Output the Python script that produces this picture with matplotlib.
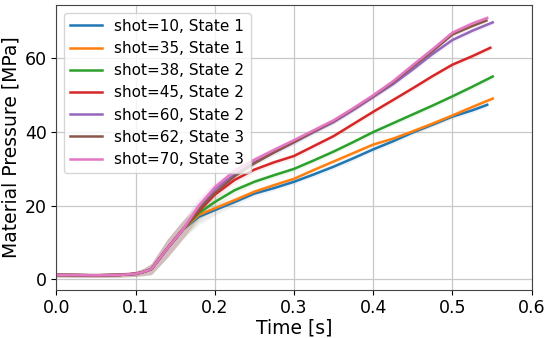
import numpy as np
import matplotlib
matplotlib.use('Agg')
from matplotlib import pyplot as plt

# sample times (s) shared by all shots, last point of each shot is in end_time
time = [0.0, 0.05, 0.08, 0.10, 0.11, 0.12, 0.14, 0.16, 0.18, 0.20, 0.225, 0.25,
        0.275, 0.30, 0.325, 0.35, 0.375, 0.40, 0.425, 0.45, 0.475, 0.50, 0.525]
end_time = [0.544, 0.551, 0.551, 0.548, 0.551, 0.543, 0.544]

labels = ['shot=10, State 1', 'shot=35, State 1', 'shot=38, State 2',
          'shot=45, State 2', 'shot=60, State 2', 'shot=62, State 3',
          'shot=70, State 3']

start = [1.2, 1.1, 1.2, 1.5, 2.0, 2.8, 8.4, 13.6]  # common part up to 0.16 s

shot10 = start + [17.0, 18.8, 21.0, 23.3, 24.8, 26.5, 28.5, 30.6, 32.9, 35.3,
                  37.5, 39.9, 42.0, 44.2, 45.9, 47.4]
shot35 = start + [17.5, 19.3, 21.5, 23.8, 25.6, 27.3, 29.7, 32.0, 34.3, 36.6,
                  38.2, 40.2, 42.3, 44.5, 46.8, 49.1]
shot38 = start + [18.0, 21.0, 24.2, 26.5, 28.3, 30.0, 32.3, 34.7, 37.3, 40.0,
                  42.4, 44.8, 47.2, 49.7, 52.3, 55.1]
shot45 = start + [18.5, 23.0, 27.0, 29.8, 31.8, 33.5, 36.2, 38.9, 42.2, 45.5,
                  48.7, 51.9, 55.2, 58.3, 60.6, 62.9]
shot60 = start + [19.5, 24.5, 28.5, 31.8, 34.5, 37.2, 40.0, 42.7, 46.0, 49.5,
                  53.0, 57.0, 61.2, 65.0, 67.5, 69.8]
shot62 = start + [19.0, 23.5, 28.0, 31.5, 34.5, 37.3, 40.2, 43.0, 46.3, 49.8,
                  53.5, 57.8, 62.0, 66.5, 68.8, 70.3]
shot70 = start + [20.0, 25.0, 29.5, 32.5, 35.2, 37.8, 40.5, 43.2, 46.5, 50.0,
                  53.8, 58.2, 62.5, 67.0, 69.5, 71.0]

# faint spread band around each curve
spread = [0.6, 0.6, 0.6, 0.7, 1.0, 1.5, 2.5, 2.5, 2.2, 1.5, 1.0, 0.8,
          0.7, 0.7, 0.7, 0.7, 0.7, 0.7, 0.7, 0.7, 0.7, 0.7, 0.7, 0.7]

series = [shot10, shot35, shot38, shot45, shot60, shot62, shot70]

fig = plt.figure(figsize=(5.5, 3.38), dpi=100)
ax = fig.add_axes([0.1025, 0.143, 0.864, 0.842])

for i, vals in enumerate(series):
    t = np.array(time + [end_time[i]])
    y = np.array(vals)
    color = 'C%d' % i
    ax.fill_between(t, y - np.array(spread), y + np.array(spread),
                    color=color, alpha=0.08, linewidth=0)
    ax.plot(t, y, color=color, linewidth=1.8, label=labels[i])

ax.set_xlim(0, 0.6)
ax.set_ylim(-2.8, 74.5)
ax.set_yticks([0, 20, 40, 60])
ax.grid(True, color='#c8c8c8', linewidth=0.9)
ax.set_axisbelow(True)
for s in ax.spines.values():
    s.set_color('#444444')

ax.tick_params(labelsize=12.5)
ax.set_xlabel('Time [s]', fontsize=13.5, labelpad=1)
ax.set_ylabel('Material Pressure [MPa]', fontsize=13.5, labelpad=3)

ax.legend(loc='upper left', fontsize=11, handlelength=2.1,
          labelspacing=0.47, borderaxespad=0.5)

fig.savefig('out.png', dpi=100)
